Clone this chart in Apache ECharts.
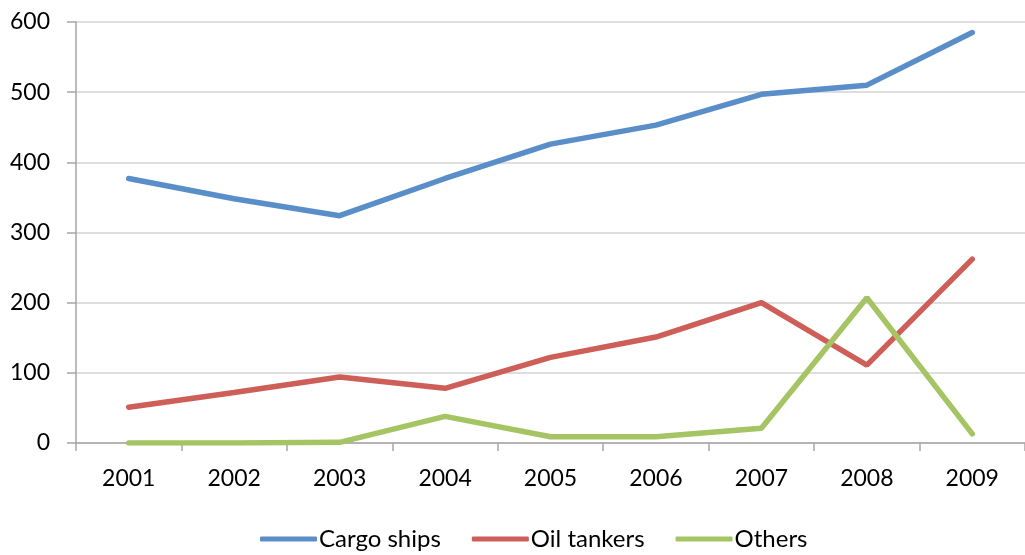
<!DOCTYPE html>
<html>
<head>
<meta charset="utf-8">
<script src="https://cdn.jsdelivr.net/npm/echarts@6/dist/echarts.min.js"></script>
<style>
  html, body { margin: 0; padding: 0; background: #fff; }
  #chart { width: 1025px; height: 555px; }
</style>
</head>
<body>
<div id="chart"></div>
<script>
// Ship counts per year
const years = ['2001', '2002', '2003', '2004', '2005', '2006', '2007', '2008', '2009'];
const cargoShips = [377, 348, 324, 377, 426, 453, 497, 510, 585];
const oilTankers = [51, 72, 94, 78, 122, 151, 200, 111, 262];
const others = [0, 0, 1, 38, 9, 9, 21, 207, 13];
const seriesNames = ['Cargo ships', 'Oil tankers', 'Others'];
const seriesColors = ['#5A8EC9', '#CE5F58', '#A5C463'];

const font = 'Lato, "Open Sans", sans-serif';

function lineSeries(name, data, color) {
  return {
    name: name,
    type: 'line',
    data: data,
    symbol: 'none',
    smooth: false,
    color: color,
    lineStyle: { width: 5.5, color: color, cap: 'round' },
    emphasis: { disabled: true }
  };
}

const chart = echarts.init(document.getElementById('chart'), null, { renderer: 'canvas' });
chart.setOption({
  animation: false,
  backgroundColor: '#ffffff',
  grid: { left: 76, top: 22, width: 957, height: 421, containLabel: false },
  legend: {
    left: 255,
    top: 522,
    itemWidth: 57,
    itemHeight: 5,
    itemGap: 31,
    icon: 'roundRect',
    textStyle: { fontFamily: font, fontSize: 24, color: '#000', padding: [0, 0, 0, -3] },
    data: seriesNames
  },
  xAxis: {
    type: 'category',
    data: years,
    boundaryGap: true,
    axisLine: { lineStyle: { color: '#A6A6A6', width: 1.5 } },
    axisTick: { show: true, length: 8, lineStyle: { color: '#A6A6A6', width: 1.5 } },
    axisLabel: { margin: 24, fontFamily: font, fontSize: 23, color: '#000' },
    splitLine: { show: false }
  },
  yAxis: {
    type: 'value',
    min: 0,
    max: 600,
    interval: 100,
    axisLine: { show: true, lineStyle: { color: '#A6A6A6', width: 1.5 } },
    axisTick: { show: true, length: 9, lineStyle: { color: '#A6A6A6', width: 1.5 } },
    axisLabel: { margin: 26, fontFamily: font, fontSize: 23, color: '#000' },
    splitLine: { show: true, lineStyle: { color: '#D3D3D3', width: 1.5 } }
  },
  series: [
    lineSeries(seriesNames[0], cargoShips, seriesColors[0]),
    lineSeries(seriesNames[1], oilTankers, seriesColors[1]),
    lineSeries(seriesNames[2], others, seriesColors[2])
  ]
});
</script>
</body>
</html>
